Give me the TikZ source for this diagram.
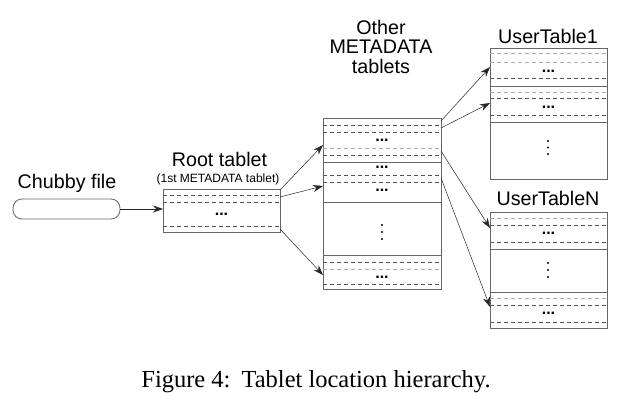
\documentclass[tikz,border=0pt]{standalone}
\usepackage{fontspec}
\setmainfont{Liberation Serif}
\newfontfamily\hv{Liberation Sans}
\usetikzlibrary{arrows.meta,calc}
\definecolor{edge}{HTML}{666666}
\definecolor{dk}{HTML}{555555}
\definecolor{lt}{HTML}{AAAAAA}
\begin{document}
\begin{tikzpicture}[x=1pt,y=-1pt,
  boxst/.style={draw=edge, line width=0.8pt, inner sep=0pt, outer sep=0pt, anchor=north west},
  dd/.style={draw=dk, line width=0.6pt, dash pattern=on 4pt off 3pt},
  dl/.style={draw=lt, line width=0.8pt, dash pattern=on 4pt off 3pt},
  sep/.style={draw=edge, line width=0.8pt},
  lbl/.style={font=\hv\fontsize{19.7}{19.5}\selectfont, inner sep=0pt, anchor=base, align=center},
  sml/.style={font=\hv\fontsize{12}{14}\selectfont, inner sep=0pt, anchor=base},
  ell/.style={font=\hv\bfseries\fontsize{16}{16}\selectfont, inner sep=0pt, anchor=base},
  arr/.style={draw=black!85, line width=0.5pt, -{Stealth[length=10pt,width=7pt]}},
  vdot/.style={fill=black, circle, inner sep=0pt, minimum size=2.2pt}
]
\useasboundingbox (0,0) rectangle (619,408);

% ---------- Chubby file ----------
\node[lbl] (chubbylbl) at (67,188) {Chubby file};
\node[boxst, rounded corners=9pt, minimum width=107pt, minimum height=20pt] (chubby) at (13,199) {};

% ---------- Root tablet ----------
\node[lbl] (rootlbl) at (219.5,166) {Root tablet};
\node[sml] (rootsub) at (218,182) {(1st METADATA tablet)};
\node[boxst, minimum width=117pt, minimum height=43pt] (root) at (163,189) {};
\draw[dd] (163,195) -- (280,195);
\draw[dd] (163,202) -- (280,202);
\draw[dd] (163,226) -- (280,226);
\node[ell] (rootdots) at (221.5,215) {...};

% ---------- Other METADATA tablets ----------
\node[lbl] (otherlbl) at (381,73) {Other\\METADATA\\tablets};
\node[boxst, minimum width=118pt, minimum height=171pt] (other) at (323,118) {};
\draw[dd] (323,125) -- (441,125);
\draw[dd] (323,132) -- (441,132);
\node[ell] (od1) at (382,141) {...};
\draw[dl] (323,148) -- (441,148);
\draw[dd] (323,155) -- (441,155);
\draw[sep] (323,162) -- (441,162);
\node[ell] (od2) at (382,168) {...};
\draw[dd] (323,175) -- (441,175);
\draw[dd] (323,182) -- (441,182);
\node[ell] (od3) at (382,191) {...};
\draw[sep] (323,202) -- (441,202);
\node[vdot] at (382,225) {};
\node[vdot] at (382,232) {};
\node[vdot] at (382,239) {};
\draw[sep] (323,255) -- (441,255);
\draw[dd] (323,262) -- (441,262);
\draw[dl] (323,269) -- (441,269);
\node[ell] (od4) at (382,278) {...};
\draw[dd] (323,284) -- (441,284);

% ---------- UserTable1 ----------
\node[lbl] (ut1lbl) at (548,43) {UserTable1};
\node[boxst, minimum width=117pt, minimum height=131pt] (ut1) at (490,48) {};
\draw[dl] (490,53) -- (607,53);
\draw[dl] (490,62) -- (607,62);
\node[ell] (u1d1) at (548.5,72) {...};
\draw[dd] (490,78) -- (607,78);
\draw[sep] (490,86) -- (607,86);
\draw[dl] (490,92) -- (607,92);
\draw[dd] (490,98) -- (607,98);
\node[ell] (u1d2) at (548.5,108) {...};
\draw[dd] (490,115) -- (607,115);
\draw[sep] (490,122) -- (607,122);
\node[vdot] at (548,141) {};
\node[vdot] at (548,147.5) {};
\node[vdot] at (548,154) {};

% ---------- UserTableN ----------
\node[lbl] (utnlbl) at (548,205) {UserTableN};
\node[boxst, minimum width=117pt, minimum height=116pt] (utn) at (490,212) {};
\draw[dl] (490,218) -- (607,218);
\draw[dd] (490,225) -- (607,225);
\node[ell] (und1) at (548.5,234) {...};
\draw[dd] (490,242) -- (607,242);
\draw[sep] (490,249) -- (607,249);
\node[vdot] at (548,263) {};
\node[vdot] at (548,270) {};
\node[vdot] at (548,277) {};
\draw[sep] (490,292) -- (607,292);
\draw[dl] (490,298) -- (607,298);
\draw[dd] (490,305) -- (607,305);
\node[ell] (und2) at (548.5,314) {...};
\draw[dd] (490,322) -- (607,322);

% ---------- connectors ----------
\draw[arr] (chubby.east) -- (chubby.east -| root.west);
\draw[arr] ($(root.north east)+(0,1)$) -- ($(other.north west)+(0,27)$);
\draw[arr] ($(root.north east)+(0,8)$) -- ($(other.north west)+(0,68)$);
\draw[arr] ($(root.south east)+(0,-3)$) -- ($(other.north west)+(0,157)$);
\draw[arr] ($(other.north east)+(0,3)$) -- ($(ut1.north west)+(0,19)$);
\draw[arr] ($(other.north east)+(0,10)$) -- ($(ut1.north west)+(0,55)$);
\draw[arr] ($(other.north east)+(0,33)$) -- ($(utn.north west)+(0,16)$);
\draw[arr] ($(other.north east)+(0,60)$) -- ($(utn.north west)+(0,95)$);

% ---------- caption ----------
\node[font=\fontsize{24.5}{28}\selectfont, inner sep=0pt, anchor=base] (caption) at (316,387) {Figure 4:\hspace{11pt}Tablet location hierarchy.};
\end{tikzpicture}
\end{document}
